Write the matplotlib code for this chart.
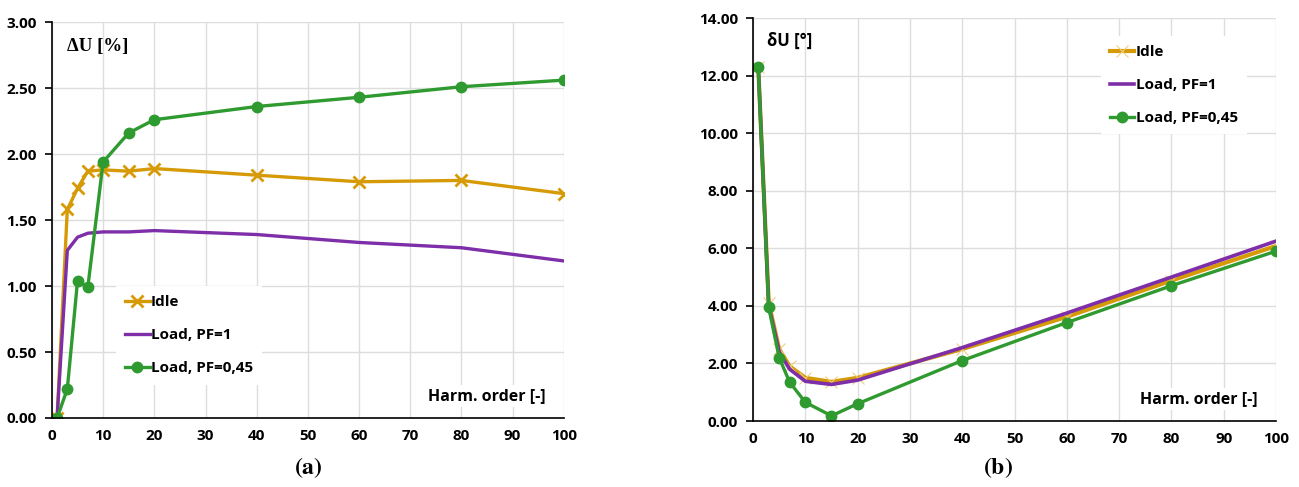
import matplotlib.pyplot as plt
import numpy as np

plt.rcParams['font.family'] = ['Open Sans', 'DejaVu Sans']
plt.rcParams['font.weight'] = 'bold'
plt.rcParams['mathtext.fontset'] = 'stix'

# harmonic orders
h = [1, 3, 5, 7, 10, 15, 20, 40, 60, 80, 100]

# (a) voltage magnitude deviation [%]
du_idle = [0.00, 1.58, 1.74, 1.87, 1.88, 1.87, 1.89, 1.84, 1.79, 1.80, 1.70]
du_pf1 = [0.00, 1.27, 1.37, 1.40, 1.41, 1.41, 1.42, 1.39, 1.33, 1.29, 1.19]
du_pf045 = [0.00, 0.22, 1.04, 0.99, 1.94, 2.16, 2.26, 2.36, 2.43, 2.51, 2.56]

# (b) phase angle deviation [deg]
dphi_idle = [12.30, 4.10, 2.50, 1.90, 1.50, 1.36, 1.50, 2.50, 3.62, 4.88, 6.08]
dphi_pf1 = [12.30, 4.00, 2.40, 1.80, 1.38, 1.27, 1.42, 2.55, 3.75, 5.00, 6.25]
dphi_pf045 = [12.30, 3.95, 2.20, 1.35, 0.65, 0.18, 0.60, 2.10, 3.42, 4.70, 5.90]

labels = ['Idle', 'Load, PF=1', 'Load, PF=0,45']
c_idle = '#D69A07'
c_pf1 = '#7D2EA8'
c_pf045 = '#2F9A2F'

fig = plt.figure(figsize=(12.99, 4.87), dpi=100)
ax1 = fig.add_axes([0.040, 0.1417, 0.394, 0.813])
ax2 = fig.add_axes([0.5797, 0.1355, 0.4026, 0.8275])


def style(ax, ymax, ystep):
	ax.set_xlim(0, 100)
	ax.set_ylim(0, ymax)
	ax.set_xticks(np.arange(0, 101, 10))
	ax.set_yticks(np.arange(0, ymax + 0.001, ystep))
	ax.yaxis.set_major_formatter(plt.FormatStrFormatter('%.2f'))
	ax.grid(True, color='#DDDDDD', lw=1)
	ax.set_axisbelow(True)
	for s in ['top', 'right']:
		ax.spines[s].set_visible(False)
	for s in ['left', 'bottom']:
		ax.spines[s].set_color('black')
		ax.spines[s].set_linewidth(1.2)
	ax.tick_params(axis='x', length=0, pad=8, labelsize=11)
	ax.tick_params(axis='y', length=5, width=1.2, direction='out', pad=6, labelsize=11)
	for t in ax.get_xticklabels() + ax.get_yticklabels():
		t.set_fontweight('bold')


style(ax1, 3.0, 0.5)
ax1.plot(h, du_idle, color=c_idle, lw=2.4, marker='x', ms=9, mew=2, label=labels[0])
ax1.plot(h, du_pf1, color=c_pf1, lw=2.4, label=labels[1])
ax1.plot(h, du_pf045, color=c_pf045, lw=2.4, marker='o', ms=7.5, label=labels[2])
ax1.text(0.03, 0.96, 'ΔU [%]', transform=ax1.transAxes, family=['Liberation Serif'],
	fontsize=13.5, fontweight='bold', va='top', ha='left')
ax1.text(0.965, 0.035, 'Harm. order [-]', transform=ax1.transAxes, fontsize=11.5,
	fontweight='bold', ha='right', va='bottom',
	bbox=dict(facecolor='white', edgecolor='none', pad=2))
leg1 = ax1.legend(loc='lower left', bbox_to_anchor=(0.11, 0.065), frameon=True,
	facecolor='white', edgecolor='none', framealpha=1, fancybox=False,
	handlelength=1.6, handletextpad=0.1, labelspacing=1.25, borderpad=0.6,
	prop={'weight': 'bold', 'size': 11})

style(ax2, 14.0, 2.0)
ax2.plot(h, dphi_idle, color=c_idle, lw=3, marker='x', ms=9, mew=0.8,
	mec='#F1CC80', label=labels[0])
ax2.plot(h, dphi_pf1, color=c_pf1, lw=2.6, label=labels[1])
ax2.plot(h, dphi_pf045, color=c_pf045, lw=2.4, marker='o', ms=7.5, label=labels[2])
ax2.text(0.027, 0.965, 'δU [°]', transform=ax2.transAxes, fontsize=12,
	fontweight='bold', va='top', ha='left')
ax2.text(0.965, 0.035, 'Harm. order [-]', transform=ax2.transAxes, fontsize=11.5,
	fontweight='bold', ha='right', va='bottom',
	bbox=dict(facecolor='white', edgecolor='none', pad=2))
leg2 = ax2.legend(loc='upper left', bbox_to_anchor=(0.65, 0.975), frameon=True,
	facecolor='white', edgecolor='none', framealpha=1, fancybox=False,
	handlelength=1.6, handletextpad=0.1, labelspacing=1.25, borderpad=0.6,
	prop={'weight': 'bold', 'size': 11})

fig.text(0.237, 0.04, r'$(\mathbf{a})$', fontsize=17, ha='center', va='center')
fig.text(0.768, 0.04, r'$(\mathbf{b})$', fontsize=17, ha='center', va='center')

fig.savefig('out.png', dpi=100)
